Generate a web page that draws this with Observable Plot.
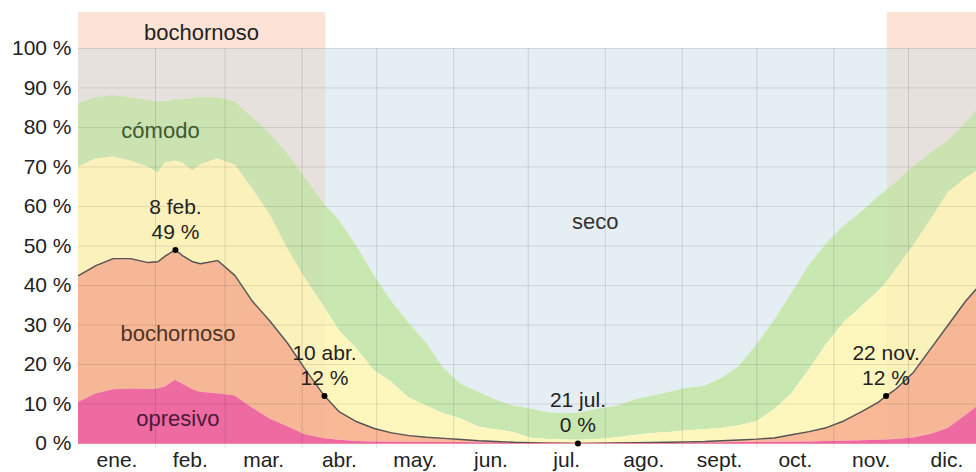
<!DOCTYPE html>
<html><head><meta charset="utf-8">
<script src="https://cdn.jsdelivr.net/npm/d3@7"></script>
<script src="https://cdn.jsdelivr.net/npm/@observablehq/plot@0.6"></script>
<style>
html,body{margin:0;padding:0;background:#fff;overflow:hidden}
svg{display:block}
</style></head><body><div id="chart"></div>
<script>
// day of year (0 = 1 ene.)
const days = [0,7,14,21,28,32,35,39,42,46,49,56,63,70,77,84,91,99,105,112,119,126,133,140,147,154,161,168,175,182,189,196,201,210,217,224,231,238,245,252,259,266,273,280,287,294,301,308,315,322,325,329,336,343,350,357,364];
// cumulative tops of each comfort band (%)
const opresivo = [10.4,12.5,13.6,13.8,13.7, 13.8,14.3,16,15,13.6, 13,12.6,12,9,6.2, 4.3,2.3,1.2,0.8,0.5, 0.4,0.35,0.3,0.3,0.25, 0.25,0.2,0.2,0.2,0.15, 0.1,0.05,0,0.05,0.1, 0.15,0.2,0.2,0.2,0.2, 0.2,0.25,0.3,0.3,0.35, 0.4,0.5,0.6,0.7,0.8, 0.9,1,1.4,2.3,3.8, 7,10.5];
const bochornoso = [42.5,45,46.8,46.8,45.8, 46,47.5,49,47.5,46, 45.5,46.3,42.5,36,31, 25.5,19,12,8,5.5, 3.8,2.7,2,1.6,1.3, 1,0.7,0.5,0.3,0.2, 0.1,0.05,0,0.1,0.15, 0.2,0.25,0.3,0.4,0.5, 0.7,0.9,1.1,1.4,2.2, 3,4,5.7,8,10.5, 12,13.8,18,24,30, 36,41];
const humedo = [70,72,72.5,71.5,70, 68.5,71,71.5,71,69, 70.5,72,70.5,64.5,58, 49.5,42,34.5,28.5,24, 18.5,15.5,11.5,9.5,7.5, 6.2,4.2,3.5,2.8,1.3, 1,0.9,0.8,1,1.5, 2,2.5,2.8,3.2,3.5, 3.8,4.5,5.5,8.5,12.5, 18.5,25,30.5,34.5,38.5, 40.5,44,50,56.5,63.5, 67,70];
const comodo = [86,87.5,88,87.5,86.8, 86.5,86.5,87,87,87.3, 87.6,87.5,86.5,82.5,78.5, 73.5,67.5,60.5,56.5,50, 42.5,36,30.5,25.5,19, 15,13,11,9.5,8.8, 7.8,7.6,7.7,8.8,9.5, 11,12,13,14,14.5, 16.5,19.5,25,31,38, 45,50.5,55,58.5,62.5, 64,66,70,73.5,76.5, 81,86];

const months = ["ene.","feb.","mar.","abr.","may.","jun.","jul.","ago.","sept.","oct.","nov.","dic."];
const monthStarts = [0,31,59,90,120,151,181,212,243,273,304,334,365];
const yTicks = [0,10,20,30,40,50,60,70,80,90,100];

// muggy ("bochornoso") season
const muggyStart = [0, 325.5];
const muggyEnd = [99.5, 366];

// annotations
const annDays = [39, 99, 201, 325];
const annVals = [49, 12, 0, 12];
const annDates = ["8 feb.", "10 abr.", "21 jul.", "22 nov."];

const bandNames = ["cómodo", "seco", "bochornoso", "opresivo"];
const bandDays = [33, 208, 40, 40];
const bandVals = [79, 56, 27.8, 6.3];
const bandColors = ["#3d5a30", "#333333", "#4d3326", "#4b1a3a"];

const rows = days.map((d, i) => ({d, o: opresivo[i], b: bochornoso[i], h: humedo[i], c: comodo[i]}));
const monthMid = months.map((m, i) => (monthStarts[i] + monthStarts[i + 1]) / 2);
const FONT = "'Liberation Sans', Arial, sans-serif";
const TOP = 109.1;
const XMAX = 361.4;
const muggyIdx = d3.range(muggyStart.length);

const chart = Plot.plot({
  width: 976, height: 472,
  marginLeft: 78, marginRight: 0, marginTop: 12, marginBottom: 29,
  x: {domain: [0, XMAX], label: null},
  y: {domain: [0, TOP], label: null},
  style: {fontFamily: FONT, background: "#fff", overflow: "visible"},
  marks: [
    Plot.areaY(rows, {x: "d", y1: "c", y2: () => 100, fill: "#e5eef3", clip: true}),
    // muggy season tint on the dry background
    Plot.rect(muggyIdx, {x1: i => muggyStart[i], x2: i => Math.min(muggyEnd[i], XMAX), y1: () => 0, y2: () => 100, fill: "#f0d8c8", fillOpacity: 0.38}),
    Plot.areaY(rows, {x: "d", y1: "h", y2: "c", fill: "#c9e8b1", clip: true}),
    Plot.areaY(rows, {x: "d", y1: "b", y2: "h", fill: "#fef7bd", clip: true}),
    Plot.areaY(rows, {x: "d", y1: "o", y2: "b", fill: "#f9b896", clip: true}),
    Plot.areaY(rows, {x: "d", y1: () => 0, y2: "o", fill: "#f065a2", clip: true}),
    // light muggy overlay over everything
    Plot.rect(muggyIdx, {x1: i => muggyStart[i], x2: i => Math.min(muggyEnd[i], XMAX), y1: () => 0, y2: () => 100, fill: "#d8b8a8", fillOpacity: 0.08}),
    Plot.rect(muggyIdx, {x1: i => muggyStart[i], x2: i => Math.min(muggyEnd[i], XMAX), y1: () => 100, y2: () => TOP, fill: "#fde2d6"}),
    // grid
    Plot.ruleY(yTicks, {stroke: "#000", strokeOpacity: 0.1}),
    Plot.ruleX(monthStarts.slice(1, 12), {y1: () => -1.3, y2: () => 100, stroke: "#000", strokeOpacity: 0.12}),
    Plot.ruleY([0], {stroke: "#f08aa0", strokeWidth: 1}),
    // bochornoso line
    Plot.line(rows, {x: "d", y: "b", stroke: "#555", strokeWidth: 1.4, clip: true}),
    // axes
    Plot.axisY(yTicks, {tickSize: 0, tickPadding: 7, tickFormat: d => d + " %", fontSize: 21, fill: "#222", label: null}),
    Plot.axisX(monthMid, {tickSize: 0, tickPadding: 9, tickFormat: (d, i) => months[i], fontSize: 21, fill: "#222", label: null}),
    // labels
    Plot.text(["bochornoso"], {x: () => 49.5, y: () => 103.8, text: d => d, fontSize: 22, fill: "#222"}),
    Plot.text(d3.range(bandNames.length), {x: i => bandDays[i], y: i => bandVals[i], text: i => bandNames[i], fill: i => bandColors[i], fontSize: 22}),
    // annotations
    Plot.dot(d3.range(annDays.length), {x: i => annDays[i], y: i => annVals[i], r: 3, fill: "#000"}),
    Plot.text(d3.range(annDays.length), {x: i => annDays[i], y: i => annVals[i], text: i => annDates[i], dy: -43, fontSize: 21, fill: "#222"}),
    Plot.text(d3.range(annDays.length), {x: i => annDays[i], y: i => annVals[i], text: i => annVals[i] + " %", dy: -18, fontSize: 21, fill: "#222"})
  ]
});
document.getElementById("chart").appendChild(chart);
</script>
</body></html>
